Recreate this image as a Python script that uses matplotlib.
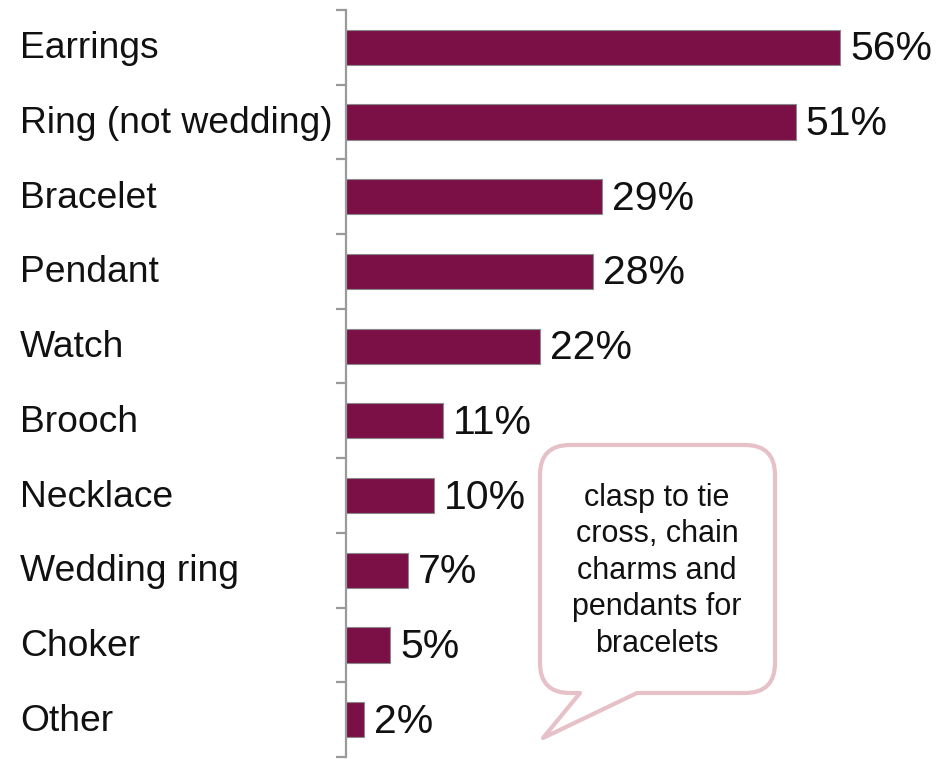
import matplotlib.pyplot as plt
import matplotlib.transforms as mtransforms
from matplotlib.path import Path
from matplotlib.patches import PathPatch
import numpy as np

plt.rcParams['font.family'] = ['Liberation Sans', 'DejaVu Sans']

items = ['Earrings', 'Ring (not wedding)', 'Bracelet', 'Pendant', 'Watch',
         'Brooch', 'Necklace', 'Wedding ring', 'Choker', 'Other']
shares = [56, 51, 29, 28, 22, 11, 10, 7, 5, 2]
note_lines = ['clasp to tie', 'cross, chain', 'charms and', 'pendants for', 'bracelets']

W, H = 940, 759
fig = plt.figure(figsize=(W / 100, H / 100), dpi=100)
ax = fig.add_axes([346 / W, 1 - 757 / H, (W - 346) / W, (757 - 10) / H])

bar_color = '#7a1046'
y = np.arange(len(items))
ax.barh(y, shares, height=0.47, color=bar_color, edgecolor='#8a8a8a', linewidth=0.8)

ax.set_xlim(0, (W - 346) / 8.82)
ax.set_ylim(len(items) - 0.5, -0.5)

for s in ['top', 'right', 'bottom']:
    ax.spines[s].set_visible(False)
ax.spines['left'].set_color('#9a9a9a')
ax.spines['left'].set_linewidth(1.6)
ax.set_xticks([])
ax.set_yticks([])
ax.set_yticks(np.arange(-0.5, len(items), 1.0), minor=True)
ax.tick_params(axis='y', which='minor', length=7, width=1.6, color='#9a9a9a',
               labelleft=False)

# category names, left aligned against the figure edge
trans = mtransforms.blended_transform_factory(fig.transFigure, ax.transData)
for yi, name in zip(y, items):
    ax.annotate(name, (20 / W, yi), xycoords=trans, xytext=(0, -11),
                textcoords='offset pixels', ha='left', va='baseline',
                fontsize=26.8, color='#111111')

for yi, v in zip(y, shares):
    ax.annotate(f'{v}%', (v, yi), xytext=(10, -13), textcoords='offset pixels',
                ha='left', va='baseline', fontsize=29.5, color='#111111')

# speech bubble
def px(x, yy):
    return (x / W, 1 - yy / H)

L, R, T, B, r = 540, 775, 445, 693, 30
verts = [px(L + r, T), px(R - r, T), px(R, T), px(R, T + r), px(R, B - r),
         px(R, B), px(R - r, B), px(637, B), px(543, 738), px(580, B),
         px(L + r, B), px(L, B), px(L, B - r), px(L, T + r), px(L, T),
         px(L + r, T), px(L + r, T)]
codes = [Path.MOVETO, Path.LINETO, Path.CURVE3, Path.CURVE3, Path.LINETO,
         Path.CURVE3, Path.CURVE3, Path.LINETO, Path.LINETO, Path.LINETO,
         Path.LINETO, Path.CURVE3, Path.CURVE3, Path.LINETO, Path.CURVE3,
         Path.CURVE3, Path.CLOSEPOLY]
bubble = PathPatch(Path(verts, codes), transform=fig.transFigure,
                   facecolor='white', edgecolor='#e6c1c8', linewidth=3,
                   joinstyle='round')
fig.add_artist(bubble)

for i, line in enumerate(note_lines):
    fig.text(657 / W, 1 - (498 + i * 36.5) / H, line, ha='center', va='center',
             fontsize=22, color='#111111')

fig.savefig('out.png', dpi=100)
